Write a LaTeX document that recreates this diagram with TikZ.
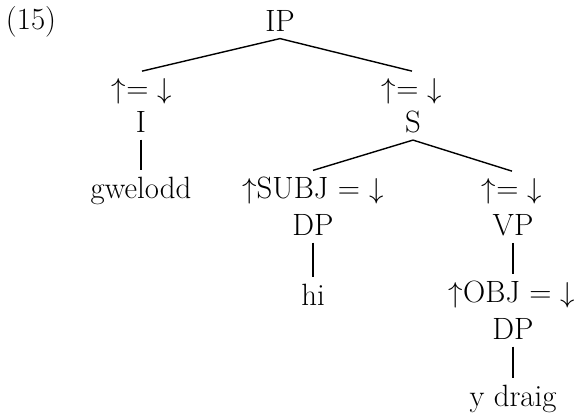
\documentclass[tikz,border=0pt]{standalone}
\usepackage{amsmath, amssymb, tikz}

\begin{document}
\begin{tikzpicture}[x=0.5pt, y=-0.5pt, font=\fontsize{15.4}{18}\selectfont,
    branch/.style={line width=0.7pt},
    unary/.style={line width=1.2pt}]
                \useasboundingbox (0,0) rectangle (577,419);
                \node (ex) at (31,22) {(15)};
                \node (ip) at (280,21) {IP};
                % left daughter
                \node (feqi) at (142,91) {$\uparrow$= $\downarrow$};
                \node (i) at (141,122) {I};
                \node (gwelodd) at (141,191) {gwelodd};
                % right daughter
                \node (feqs) at (412,91) {$\uparrow$= $\downarrow$};
                \node (s) at (413,122) {S};
                \node (subj) at (313,191) {$\uparrow$SUBJ = $\downarrow$};
                \node (dpsubj) at (313,225) {DP};
                \node (hi) at (313,295) {hi};
                \node (feqvp) at (512,191) {$\uparrow$= $\downarrow$};
                \node (vp) at (513,225) {VP};
                \node (obj) at (512,295) {$\uparrow$OBJ = $\downarrow$};
                \node (dpobj) at (513,329) {DP};
                \node (ydraig) at (513,399) {y draig};
                \draw[branch] (ip.south) -- (feqi.north);
                \draw[branch] (ip.south) -- (feqs.north);
                \draw[unary] (i.south) -- (i.south |- gwelodd.north);
                \draw[branch] (s.south) -- (subj.north);
                \draw[branch] (s.south) -- (feqvp.north);
                \draw[unary] (dpsubj.south) -- (dpsubj.south |- hi.north);
                \draw[unary] (vp.south) -- (vp.south |- obj.north);
                \draw[unary] (dpobj.south) -- (dpobj.south |- ydraig.north);
                % \draw (feqi) -- (i);
            \end{tikzpicture}
\end{document}
